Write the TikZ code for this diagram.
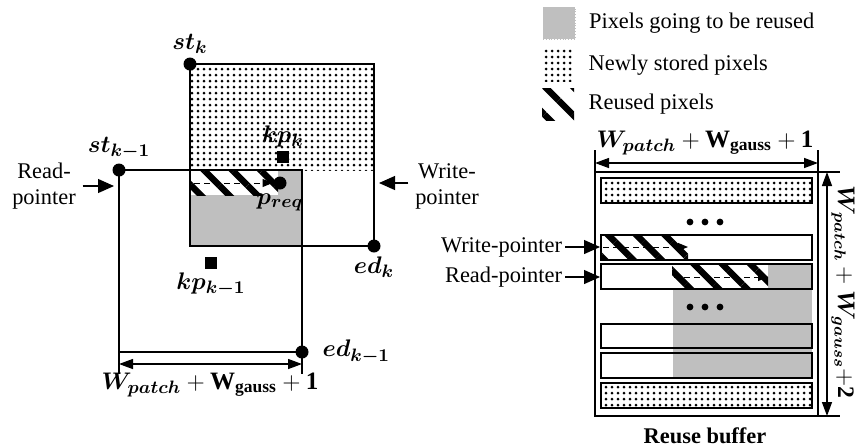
\documentclass[tikz,border=0pt]{standalone}
\usepackage{fontspec}
\setmainfont{Liberation Serif}
\usepackage{amsmath}
\usepackage{bm}
\usetikzlibrary{arrows.meta,patterns.meta,positioning}
\definecolor{reusegray}{RGB}{191,191,191}

\begin{document}
\begin{tikzpicture}[x=0.5pt,y=-0.5pt,line width=1pt,
  font=\fontsize{11.2}{13}\selectfont,
  dot/.style={circle,fill,inner sep=0pt,minimum size=6.5pt},
  kpmark/.style={rectangle,fill,inner sep=0pt,minimum size=6pt},
  mlbl/.style={font=\fontsize{12.5}{14}\selectfont,inner sep=1pt},
  newpix/.style={pattern={Dots[radius=0.75pt,distance=3pt]}},
  reusedpix/.style={pattern={Lines[angle=-45,distance=10pt,line width=3.2pt]}},
  ptr/.style={line width=0.6pt,-{Triangle[length=8pt,width=7pt]}},
  scan/.style={densely dashed,line width=0.5pt,-{Triangle[length=5pt,width=4pt]}},
  dim/.style={line width=0.7pt,{Triangle[length=7pt,width=5pt]}-{Triangle[length=7pt,width=5pt]}},
  dimtick/.style={line width=0.6pt}]
  \useasboundingbox (0,0) rectangle (857,447);

  % windows k-1 and k
  \fill[newpix] (190,64) rectangle (374,170);
  \fill[reusegray] (190,170) rectangle (302,246);
  \fill[white] (190,170) rectangle (278,195);
  \fill[reusedpix] (190,170) rectangle (278,195);
  \draw (190,64) rectangle (374,246);
  \draw (119,170) rectangle (302,352);

  \node[dot,label={[mlbl]above:$\bm{st_k}$}] (stk) at (190,64) {};
  \node[dot,label={[mlbl]above:$\bm{st_{k-1}}$}] (stk1) at (119,170) {};
  \node[dot,label={[mlbl]below:$\bm{ed_k}$}] (edk) at (374,246) {};
  \node[dot,label={[mlbl,label distance=5pt]right:$\bm{ed_{k-1}}$}] (edk1) at (302,352) {};
  \node[dot,label={[mlbl]below:$\bm{p_{req}}$}] (preq) at (280,183) {};
  \node[kpmark,label={[mlbl]above:$\bm{kp_k}$}] (kpk) at (283,157) {};
  \node[kpmark,label={[mlbl]below:$\bm{kp_{k-1}}$}] (kpk1) at (211,263) {};

  \coordinate (scan0) at (194,183);
  \draw[scan] (scan0) -- (preq);

  % pointers
  \node[align=center,inner sep=1pt] (rdlbl) at (44,186) {Read-\\pointer};
  \coordinate (rdtip) at (114,186);
  \draw[ptr] (rdlbl.east |- rdtip) ++(4,0) -- (rdtip);
  \node[align=center,inner sep=1pt] (wrlbl) at (447,186) {Write-\\pointer};
  \coordinate (wrtip) at (379,183);
  \draw[ptr] (wrlbl.west |- wrtip) ++(-4,0) -- (wrtip);

  % width of a window
  \draw[dimtick] (119,352) -- (119,374);
  \draw[dimtick] (302,352) -- (302,374);
  \coordinate (dwl) at (119,364);
  \coordinate (dwr) at (302,364);
  \draw[dim] (dwl) -- (dwr);
  \node[mlbl] (wlbl) at (210,385) {$\bm{W_{patch}}+\mathbf{W}_{\mathbf{gauss}}+\mathbf{1}$};

  % legend
  \node[fill=reusegray,draw=gray!50,densely dotted,line width=0.4pt,minimum size=16pt,inner sep=0pt] (lgo) at (559,23) {};
  \node[right=3pt of lgo] {Pixels going to be reused};
  \node[newpix,minimum size=16pt,inner sep=0pt] (lnew) at (558,65) {};
  \node[right=3pt of lnew] {Newly stored pixels};
  \node[reusedpix,minimum size=16pt,inner sep=0pt] (lreu) at (558,104) {};
  \node[right=3pt of lreu] {Reused pixels};

  % reuse buffer
  \fill[reusegray] (673,289) rectangle (812,378);
  \draw[gray!50,densely dotted,line width=0.4pt] (673,289) -- (673,378);
  \draw[newpix] (601,178) rectangle (812,203);
  \fill[reusedpix] (601,235) rectangle (688,260);
  \draw (601,235) rectangle (812,260);
  \fill[reusegray] (768,264) rectangle (812,289);
  \fill[reusedpix] (672,264) rectangle (768,289);
  \draw (601,264) rectangle (812,289);
  \draw (601,324) rectangle (812,348);
  \draw (601,353) rectangle (812,378);
  \draw[newpix] (601,383) rectangle (812,408);
  \draw (595,172) rectangle (818,416);
  \foreach \x in {690,705,720} {
    \fill (\x,222) circle (1.7pt);
    \fill (\x,307) circle (1.7pt);
  }
  \coordinate (ws0) at (603,247);
  \coordinate (ws1) at (688,247);
  \draw[scan] (ws0) -- (ws1);
  \coordinate (rs0) at (674,277);
  \coordinate (rs1) at (768,277);
  \draw[scan] (rs0) -- (rs1);

  \node[anchor=east,inner sep=1pt] (wplbl) at (565,247) {Write-pointer};
  \coordinate (wptip) at (600,247);
  \draw[ptr] (wplbl.east) -- (wptip);
  \node[anchor=east,inner sep=1pt] (rplbl) at (565,277) {Read-pointer};
  \coordinate (rptip) at (600,277);
  \draw[ptr] (rplbl.east) -- (rptip);

  % buffer dimensions
  \draw[dimtick] (595,150) -- (595,172);
  \draw[dimtick] (818,150) -- (818,172);
  \coordinate (btl) at (595,163);
  \coordinate (btr) at (818,163);
  \draw[dim] (btl) -- (btr);
  \node[mlbl] (btlbl) at (705,143) {$\bm{W_{patch}}+\mathbf{W}_{\mathbf{gauss}}+\mathbf{1}$};
  \draw[dimtick] (818,172) -- (840,172);
  \draw[dimtick] (818,416) -- (840,416);
  \coordinate (brt) at (827,172);
  \coordinate (brb) at (827,416);
  \draw[dim] (brt) -- (brb);
  \node[mlbl,font=\fontsize{11.8}{14}\selectfont,rotate=-90,inner sep=0pt] (brlbl) at (843,292) {$\bm{W_{patch}}+\bm{W_{gauss}}\mathbf{+2}$};
  \node[font=\fontsize{11.2}{13}\selectfont\bfseries] (bufname) at (705,436) {Reuse buffer};
\end{tikzpicture}
\end{document}
